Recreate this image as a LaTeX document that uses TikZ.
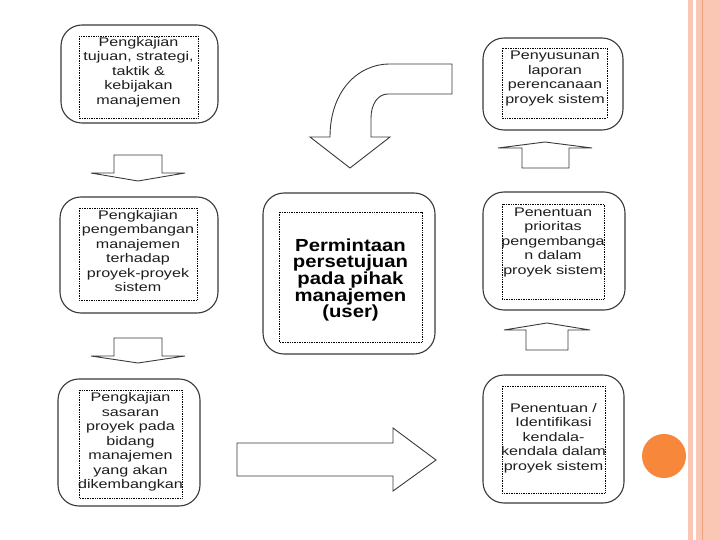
\documentclass[tikz,border=0pt]{standalone}
\usepackage{fontspec}
\newfontfamily\boxfont[FakeStretch=1.29]{Liberation Sans}
\newfontfamily\bigfont[FakeStretch=1.16]{Liberation Sans}
\definecolor{peach}{HTML}{F9C7B4}
\definecolor{peachline}{HTML}{EDA27E}
\definecolor{dotorange}{HTML}{F7873A}
\definecolor{edge}{HTML}{3A3A3A}
\definecolor{txtc}{HTML}{1E1E1E}
\tikzset{
  outerbox/.style={draw=edge, line width=1.1pt, rounded corners=21pt, fill=white},
  innerbox/.style={draw=black, densely dotted, line width=0.7pt},
  blockarrow/.style={draw=edge, line width=0.9pt, fill=white, line join=miter},
  txt/.style={align=center, text=txtc, inner sep=0pt,
    font=\boxfont\fontsize{12.5}{14.5}\selectfont},
  bigtxt/.style={align=center, text=black, inner sep=0pt,
    font=\bigfont\bfseries\fontsize{17.5}{16.6}\selectfont},
}
\begin{document}
\begin{tikzpicture}[x=1pt,y=-1pt]
\useasboundingbox (0,0) rectangle (720,540);
\fill[white] (0,0) rectangle (720,540);
% right decoration
\fill[peach] (688,0) rectangle (693,540);
\fill[peach] (696,0) rectangle (720,540);
\draw[peachline, line width=1pt] (702.5,0) -- (702.5,540);
\fill[dotorange] (664,456) circle (22);

% boxes
\draw[outerbox] (61,25) rectangle (218,123);
\draw[innerbox] (79,36) rectangle (198,118);
\draw[outerbox] (60,197) rectangle (218,313);
\draw[innerbox] (79,208) rectangle (197,300);
\draw[outerbox] (58,379) rectangle (200,506);
\draw[innerbox] (79,390) rectangle (182,498);
\draw[outerbox] (263,193) rectangle (435,354);
\draw[innerbox] (279,212) rectangle (422,342);
\draw[outerbox] (483,38) rectangle (623,130);
\draw[innerbox] (502,48) rectangle (607,118);
\draw[outerbox] (483,192) rectangle (625,310);
\draw[innerbox] (502,204) rectangle (604,299);
\draw[outerbox] (483,375) rectangle (624,503);
\draw[innerbox] (502,386) rectangle (605,493);

% texts
\node[txt] (t1) at (138.5,72) {Pengkajian\\tujuan, strategi,\\taktik \&\\kebijakan\\manajemen};
\node[txt] (t2) at (138,251) {Pengkajian\\pengembangan\\manajemen\\terhadap\\proyek-proyek\\sistem};
\node[txt] (t3) at (130.5,442) {Pengkajian\\sasaran\\proyek pada\\bidang\\manajemen\\yang akan\\dikembangkan};
\node[bigtxt] (tc) at (350.5,280) {Permintaan\\persetujuan\\pada pihak\\manajemen\\(user)};
\node[txt] (r1) at (555,78.5) {Penyusunan\\laporan\\perencanaan\\proyek sistem};
\node[txt] (r2) at (553,242) {Penentuan\\prioritas\\pengembanga\\n dalam\\proyek sistem};
\node[txt] (r3) at (553.5,438) {Penentuan /\\Identifikasi\\kendala-\\kendala dalam\\proyek sistem};

% down arrows (left)
\draw[blockarrow] (114,155) -- (162,155) -- (162,173) -- (185,173) -- (138,181) -- (91,173) -- (114,173) -- cycle;
\draw[blockarrow] (114,338) -- (162,338) -- (162,356) -- (185,356) -- (138,363) -- (91,356) -- (114,356) -- cycle;
% up arrows (right)
\draw[blockarrow] (522,168) -- (569,168) -- (569,148) -- (592,148) -- (545,142) -- (498,148) -- (522,148) -- cycle;
\draw[blockarrow] (526,350) -- (568,350) -- (568,330) -- (590,330) -- (547,323) -- (504,330) -- (526,330) -- cycle;
% right arrow (bottom)
\draw[blockarrow] (237,443) -- (393,443) -- (393,428) -- (436,460) -- (393,491) -- (393,476) -- (237,476) -- cycle;
% curved arrow
\draw[blockarrow] (452,64) -- (390,64) .. controls (357,64) and (330,92) .. (330,137)
  -- (310,137) -- (350,168) -- (390,137) -- (371,137) -- (371,118)
  .. controls (371,104) and (378,94) .. (388,94) -- (452,94) -- cycle;
\end{tikzpicture}
\end{document}
